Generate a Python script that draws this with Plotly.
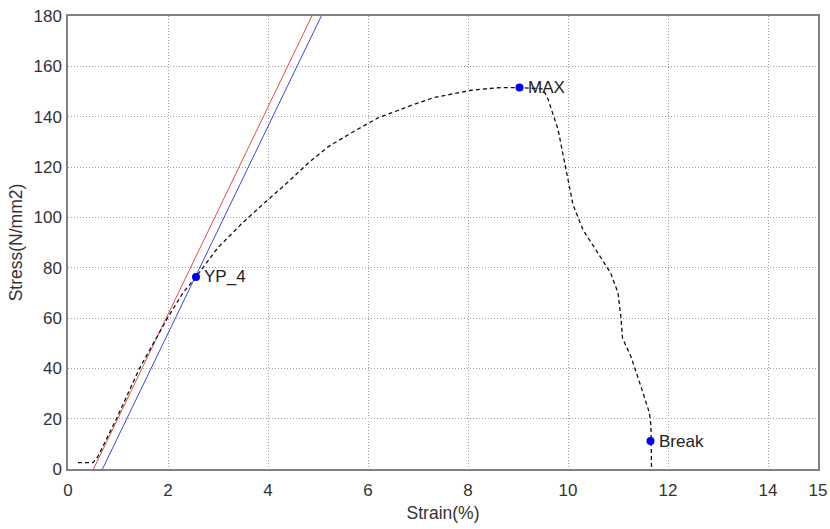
import plotly.graph_objects as go

# Stress-strain curve (dashed)
strain = [0.2, 0.5, 0.6, 0.97, 1.43, 1.99, 2.3, 2.56, 3.0, 3.5, 4.0, 4.4, 4.8, 5.2, 5.66,
          6.2, 6.8, 7.3, 8.06, 8.6, 9.03, 9.5, 9.6, 9.8, 9.96, 10.1, 10.3, 10.6, 10.85,
          11.0, 11.06, 11.09, 11.26, 11.46, 11.63, 11.66, 11.67]
stress = [2.5, 2.5, 5, 20, 40, 60, 70, 76.3, 88, 98, 107, 114, 121.5, 128, 133.5,
          139.5, 144, 147.5, 150.5, 151.5, 151.6, 151, 147, 135, 119, 105, 95, 86, 78,
          70, 60, 52, 44.6, 32.7, 22.2, 16.8, 0]

# Modulus lines
red_x = [0.51, 5.12]
red_y = [0, 190]
blue_x = [0.69, 5.31]
blue_y = [0, 190]

# Marked points
pt_x = [2.56, 9.03, 11.65]
pt_y = [76.3, 151.6, 11.1]
pt_labels = ["YP_4", "MAX", "Break"]

x_ticks = [0, 2, 4, 6, 8, 10, 12, 14, 15]
y_ticks = [0, 20, 40, 60, 80, 100, 120, 140, 160, 180]

FONT = "Arial, Liberation Sans, sans-serif"

fig = go.Figure()
fig.add_trace(go.Scatter(x=red_x, y=red_y, mode="lines",
                         line=dict(color="#e0504a", width=1)))
fig.add_trace(go.Scatter(x=blue_x, y=blue_y, mode="lines",
                         line=dict(color="#3a46d8", width=1)))
fig.add_trace(go.Scatter(x=strain, y=stress, mode="lines",
                         line=dict(color="#111111", width=1.3, dash="4px,3px")))
fig.add_trace(go.Scatter(x=pt_x, y=pt_y, mode="markers",
                         marker=dict(color="#0000ee", size=8)))
for x, y, t in zip(pt_x, pt_y, pt_labels):
    fig.add_annotation(x=x, y=y, text=t, showarrow=False, xanchor="left",
                       yanchor="middle", xshift=6,
                       font=dict(family=FONT, size=17, color="#222"))

axis_common = dict(
    showline=True, linecolor="#808080", linewidth=1.5, mirror=True,
    showgrid=True, gridcolor="#a0a0a0", griddash="1px,2px", gridwidth=1,
    zeroline=False, ticks="", automargin=False,
    tickfont=dict(family=FONT, size=17, color="#333"),
)
fig.update_xaxes(range=[0, 15], tickvals=x_ticks, ticktext=[str(v) for v in x_ticks],
                 title=dict(text="Strain(%)", font=dict(family=FONT, size=17.5, color="#333"),
                            standoff=8),
                 ticklabelstandoff=5, **axis_common)
fig.update_yaxes(range=[0, 180], tickvals=y_ticks,
                 title=dict(text="Stress(N/mm2)", font=dict(family=FONT, size=17.5, color="#333"),
                            standoff=6),
                 ticklabelstandoff=1, **axis_common)
fig.update_layout(width=830, height=529, showlegend=False,
                  margin=dict(l=68, r=12, t=16, b=60),
                  plot_bgcolor="white", paper_bgcolor="white")
fig.write_html("out.html")
